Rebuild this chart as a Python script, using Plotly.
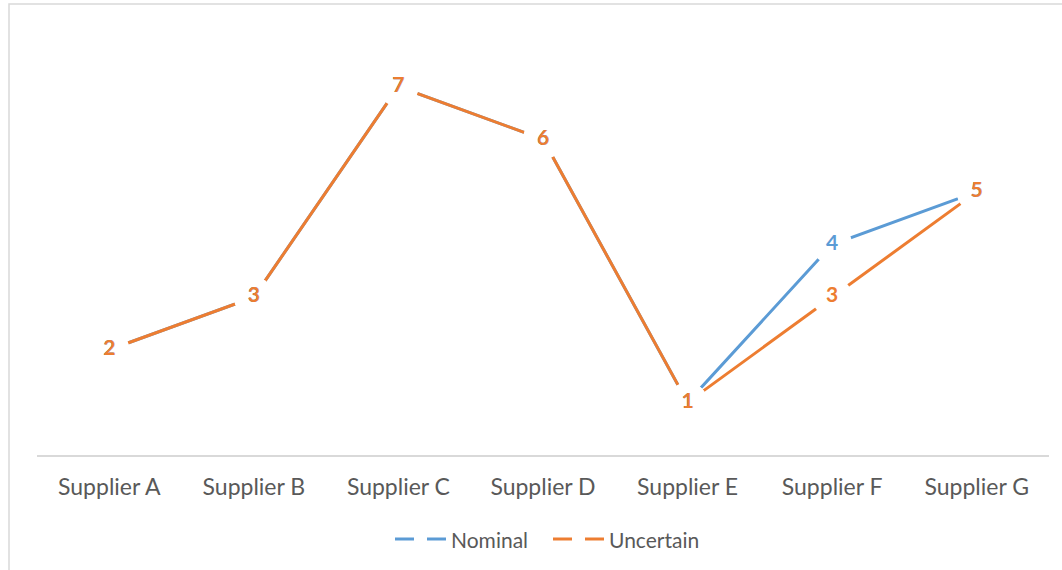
import plotly.graph_objects as go

suppliers = ["Supplier A", "Supplier B", "Supplier C", "Supplier D",
             "Supplier E", "Supplier F", "Supplier G"]
nominal = [2, 3, 7, 6, 1, 4, 5]
uncertain = [2, 3, 7, 6, 1, 3, 5]

BLUE = "#5B9BD5"
ORANGE = "#ED7D31"
GRAY = "#595959"
FONT = "Lato"

# plot-area geometry in pixels (used to place the hand-built legend)
W, H = 1062, 570
ML, MR, MT, MB = 37, 13, 34, 115
PW, PH = W - ML - MR, H - MT - MB


def px(xp):
    return (xp - ML) / PW


def py(yp):
    return (H - MB - yp) / PH


fig = go.Figure()

# series lines
for name, vals, col in [("Nominal", nominal, BLUE), ("Uncertain", uncertain, ORANGE)]:
    fig.add_trace(go.Scatter(x=suppliers, y=vals, mode="lines", name=name,
                             line=dict(color=col, width=3), showlegend=False,
                             hoverinfo="skip"))

# white knock-outs behind the value labels
for vals in (nominal, uncertain):
    fig.add_trace(go.Scatter(x=suppliers, y=vals, mode="markers", showlegend=False,
                             marker=dict(color="white", size=40, line=dict(width=0)),
                             hoverinfo="skip"))

# value labels
for vals, col in [(nominal, BLUE), (uncertain, ORANGE)]:
    fig.add_trace(go.Scatter(x=suppliers, y=vals, mode="text", showlegend=False,
                             text=[str(v) for v in vals], textposition="middle center",
                             textfont=dict(family=FONT, size=21, color=col, weight="bold"),
                             hoverinfo="skip"))

# legend: two dashes per series followed by the series name
shapes = [dict(type="rect", xref="paper", yref="paper",
               x0=px(9), x1=px(1075), y0=py(4), y1=py(585),
               line=dict(color="#D9D9D9", width=1.5), layer="below")]
annotations = []
LEG_Y = 539
for name, col, x0 in [("Nominal", BLUE, 395), ("Uncertain", ORANGE, 553)]:
    for a, b in [(x0, x0 + 19), (x0 + 32, x0 + 51)]:
        shapes.append(dict(type="line", xref="paper", yref="paper",
                           x0=px(a), x1=px(b), y0=py(LEG_Y), y1=py(LEG_Y),
                           line=dict(color=col, width=3)))
    annotations.append(dict(xref="paper", yref="paper", x=px(x0 + 54), y=py(LEG_Y),
                            xanchor="left", yanchor="middle", showarrow=False,
                            text=name, font=dict(family=FONT, size=21, color=GRAY)))

fig.update_layout(
    width=W, height=H,
    margin=dict(l=ML, r=MR, t=MT, b=MB),
    paper_bgcolor="white", plot_bgcolor="white",
    font=dict(family=FONT, size=21, color=GRAY),
    showlegend=False,
    xaxis=dict(showgrid=False, showline=True, linecolor="#D9D9D9", linewidth=2,
               ticks="", tickfont=dict(family=FONT, size=23, color=GRAY),
               ticklabelstandoff=10, range=[-0.5, 6.5], fixedrange=True),
    yaxis=dict(visible=False, range=[0, 8], fixedrange=True),
    shapes=shapes,
    annotations=annotations,
)

fig.write_html("out.html")
